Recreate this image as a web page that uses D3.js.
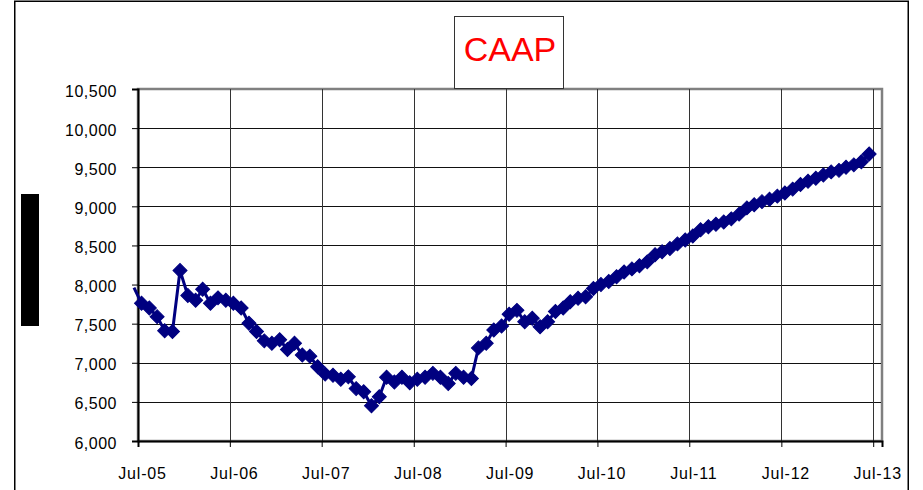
<!DOCTYPE html>
<meta charset="utf-8">
<head>
  <title>CAAP</title>
</head>

<style>
body {
  margin: 0;
  background: #fff;
}
text {
  font-family: "Liberation Sans", Arial, sans-serif;
}
</style>

<body>
  <svg width="923" height="490"></svg>

  <script src="https://cdn.jsdelivr.net/npm/d3@7"></script>
  <script>
var chartTitle = "CAAP";

// monthly readings, first one is Jun-05 (sits just left of the axis)
var firstMonth = new Date(2005, 5, 15);
var caap = [7960,
  7760, 7700, 7590, 7410, 7400, 8180, 7860, 7800, 7940, 7760, 7830, 7800,
  7760, 7700, 7505, 7400, 7280, 7250, 7295, 7170, 7250, 7100, 7085, 6950,
  6855, 6840, 6790, 6820, 6670, 6630, 6450, 6565, 6815, 6755, 6815, 6745,
  6790, 6815, 6865, 6815, 6735, 6865, 6815, 6800, 7190, 7250, 7420, 7470,
  7620, 7670, 7525, 7570, 7460, 7525, 7655, 7700, 7780, 7825, 7845, 7950,
  8000, 8040, 8100, 8160, 8200, 8240, 8290, 8380, 8420, 8460, 8520, 8570,
  8620, 8700, 8740, 8770, 8800, 8840, 8900, 8980, 9020, 9060, 9090, 9130,
  9170, 9220, 9280, 9320, 9360, 9400, 9440, 9460, 9500, 9530, 9570, 9670];

var xTickLabels = ["Jul-05", "Jul-06", "Jul-07", "Jul-08", "Jul-09",
                   "Jul-10", "Jul-11", "Jul-12", "Jul-13"];
var yTicks = [6000, 6500, 7000, 7500, 8000, 8500, 9000, 9500, 10000, 10500];

var parseTick = d3.timeParse("%b-%y");
var xTicks = xTickLabels.map(parseTick);

var data = caap.map(function(v, i) {
  return { date: d3.timeMonth.offset(firstMonth, i), value: v };
});

var plotL = 138, plotR = 882, plotT = 89, plotB = 441;

var x = d3.scaleTime()
  .domain([xTicks[0], new Date(2013, 7, 5)])
  .range([plotL, plotR]);

var y = d3.scaleLinear()
  .domain([6000, 10500])
  .range([plotB, plotT]);

var svg = d3.select("svg");

// outer frame + black bar on the left
svg.append("rect")
  .attr("x", 14.75).attr("y", 1.25)
  .attr("width", 893.5).attr("height", 520)
  .attr("fill", "#fff")
  .attr("stroke", "#000")
  .attr("stroke-width", 1.5);

svg.append("rect")
  .attr("x", 21).attr("y", 194)
  .attr("width", 18).attr("height", 132)
  .attr("fill", "#000");

// plot area
svg.append("rect")
  .attr("x", plotL).attr("y", plotT)
  .attr("width", plotR - plotL).attr("height", plotB - plotT)
  .attr("fill", "#fff")
  .attr("stroke", "#808080")
  .attr("stroke-width", 2.5);

svg.append("g")
  .selectAll("line")
  .data(yTicks.slice(1, -1))
  .enter()
  .append("line")
  .attr("x1", plotL).attr("x2", plotR - 1)
  .attr("y1", function(d) { return Math.round(y(d)) + 0.5; })
  .attr("y2", function(d) { return Math.round(y(d)) + 0.5; })
  .attr("stroke", "#111")
  .attr("stroke-width", 1);

svg.append("g")
  .selectAll("line")
  .data(xTicks.slice(1))
  .enter()
  .append("line")
  .attr("x1", function(d) { return Math.round(x(d)) + 0.5; })
  .attr("x2", function(d) { return Math.round(x(d)) + 0.5; })
  .attr("y1", plotT).attr("y2", plotB)
  .attr("stroke", "#333")
  .attr("stroke-width", 1);

// axes
var yAxis = svg.append("g")
  .attr("transform", "translate(" + plotL + ",0)")
  .call(d3.axisLeft(y)
    .tickValues(yTicks)
    .tickSize(6)
    .tickPadding(15)
    .tickFormat(d3.format(",")));

var xAxis = svg.append("g")
  .attr("transform", "translate(0," + plotB + ")")
  .call(d3.axisBottom(x)
    .tickValues(xTicks)
    .tickSize(6)
    .tickFormat(function(d, i) { return xTickLabels[i]; }));

[yAxis, xAxis].forEach(function(g) {
  g.attr("font-family", null).attr("font-size", null);
  g.select(".domain").attr("stroke", "#000").attr("stroke-width", 2);
  g.selectAll(".tick line").attr("stroke", "#000");
  g.selectAll("text")
    .attr("fill", "#000")
    .style("font-size", "16px")
    .style("letter-spacing", "0.5px");
});

yAxis.selectAll("text").attr("dy", "0.44em");
xAxis.selectAll("text").attr("dy", 0).attr("y", 38).attr("x", 4)
  .style("letter-spacing", "0.8px");

// series
var line = d3.line()
  .x(function(d) { return x(d.date); })
  .y(function(d) { return y(d.value); });

svg.append("path")
  .datum(data)
  .attr("d", line)
  .attr("fill", "none")
  .attr("stroke", "#000080")
  .attr("stroke-width", 3);

var diamond = d3.symbol().type(d3.symbolSquare).size(98);

svg.append("g")
  .selectAll("path")
  .data(data.filter(function(d) { return d.date >= xTicks[0]; }))
  .enter()
  .append("path")
  .attr("d", diamond)
  .attr("transform", function(d) {
    return "translate(" + x(d.date) + "," + y(d.value) + ") rotate(45)";
  })
  .attr("fill", "#000080")
  .attr("stroke", "#000080")
  .attr("stroke-width", 1);

// title box
svg.append("rect")
  .attr("x", 454.5).attr("y", 16.5)
  .attr("width", 109).attr("height", 72)
  .attr("fill", "#fff")
  .attr("stroke", "#333")
  .attr("stroke-width", 1);

svg.append("text")
  .attr("x", 510).attr("y", 61)
  .attr("text-anchor", "middle")
  .attr("fill", "#ff0000")
  .style("font-size", "34px")
  .text(chartTitle);
  </script>
</body>
</html>
